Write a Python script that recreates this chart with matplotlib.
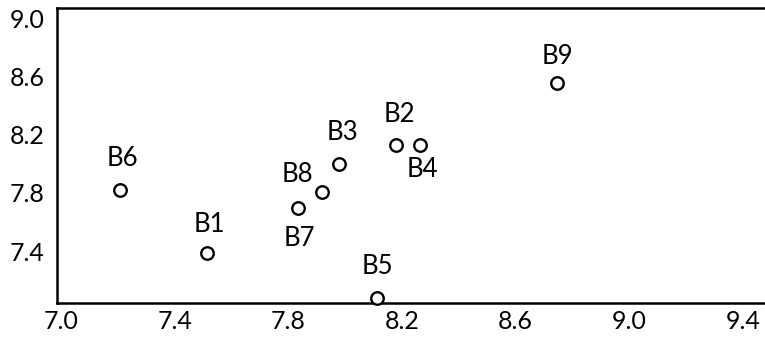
import matplotlib
matplotlib.use("Agg")
import matplotlib.pyplot as plt

labels = ["B1", "B2", "B3", "B4", "B5", "B6", "B7", "B8", "B9"]
x_vals = [7.514, 8.179, 7.978, 8.264, 8.112, 7.208, 7.834, 7.918, 8.745]
y_vals = [7.386, 8.128, 7.997, 8.128, 7.077, 7.819, 7.695, 7.805, 8.554]
x_ticks = [7.0, 7.4, 7.8, 8.2, 8.6, 9.0, 9.4]
y_ticks = [7.4, 7.8, 8.2, 8.6, 9.0]
x_tick_labels = ["7.0", "7.4", "7.8", "8.2", "8.6", "9.0", "9.4"]
y_tick_labels = ["7.4", "7.8", "8.2", "8.6", "9.0"]

# label offsets in pixels (dx, dy), dy positive = up
offsets_px = {
    "B1": (2, 29), "B2": (3, 31), "B3": (3, 32), "B4": (2, -24),
    "B5": (0, 32), "B6": (2, 32), "B7": (1, -30), "B8": (-24, 18),
    "B9": (0, 26),
}

plt.rcParams['font.family'] = ['Lato', 'DejaVu Sans']
fig = plt.figure(figsize=(7.65, 3.4), dpi=100)
ax = fig.add_axes([57/765, 37/340, 708/765, 295/340])

ax.plot(x_vals, y_vals, linestyle='none', marker='o', ms=9, mfc='white',
        mec='black', mew=1.7, clip_on=False, zorder=3)

for lab, x, y in zip(labels, x_vals, y_vals):
    dx, dy = offsets_px[lab]
    ax.annotate(lab, (x, y), xytext=(dx*0.72, dy*0.72), textcoords='offset points',
                ha='center', va='center', fontsize=18.5, color='black')

ax.set_xlim(6.986, 9.477)
ax.set_ylim(7.043, 9.069)
ax.set_xticks(x_ticks)
ax.set_xticklabels(x_tick_labels)
ax.set_yticks(y_ticks)
ax.set_yticklabels(y_tick_labels)
ax.tick_params(axis='both', length=0, labelsize=18, colors='black')
ax.tick_params(axis='x', pad=5)
ax.tick_params(axis='y', pad=9)

ax.spines['right'].set_visible(False)
for s in ['left', 'top', 'bottom']:
    ax.spines[s].set_linewidth(1.8)
    ax.spines[s].set_color('black')

fig.savefig("out.png", dpi=100)
